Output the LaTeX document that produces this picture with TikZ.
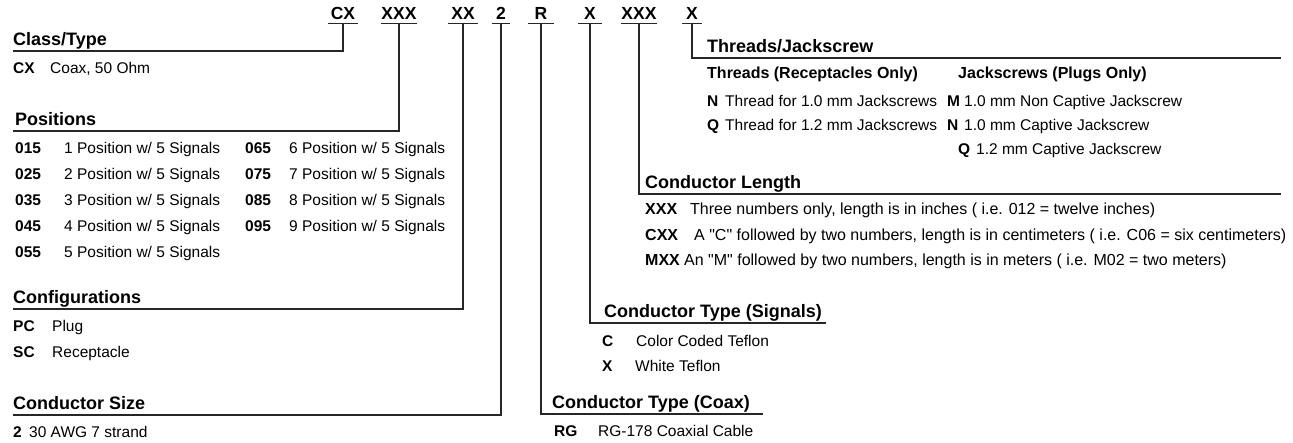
\documentclass[tikz,border=0pt]{standalone}
\usepackage{fontspec}
\setmainfont{Liberation Sans}[Ligatures=TeXOff]
\begin{document}
\begin{tikzpicture}[x=1pt,y=-1pt,
  hd/.style={anchor=base west, inner sep=0pt, font=\fontsize{18}{20}\selectfont\bfseries},
  sub/.style={anchor=base west, inner sep=0pt, font=\fontsize{16}{18}\selectfont\bfseries},
  key/.style={anchor=base west, inner sep=0pt, font=\fontsize{15.5}{18}\selectfont\bfseries},
  txt/.style={anchor=base west, inner sep=0pt, font=\fontsize{15.5}{18}\selectfont},
  keyr/.style={anchor=base west, inner sep=0pt, font=\fontsize{16}{18}\selectfont\bfseries},
  txtr/.style={anchor=base west, inner sep=0pt, font=\fontsize{16}{18}\selectfont},
  code/.style={anchor=base, inner sep=0pt, font=\fontsize{17.5}{20}\selectfont\bfseries},
  rule/.style={line width=1.1pt, black!85},
]
\useasboundingbox (0,0) rectangle (1293,442);

% ---- part-number code ----
\node[code, minimum width=30] (c1) at (343,19) {CX};
\node[code, minimum width=36] (c2) at (399,19) {XXX};
\node[code, minimum width=30] (c3) at (463,19) {XX};
\node[code, minimum width=17] (c4) at (501,19) {2};
\node[code, minimum width=25] (c5) at (541,19) {R};
\node[code, minimum width=24] (c6) at (590,19) {X};
\node[code, minimum width=36] (c7) at (639,19) {XXX};
\node[code, minimum width=20] (c8) at (692,19) {X};
\foreach \n in {c1,c2,c3,c4,c5,c6,c7,c8}
  \draw[rule] ([yshift=-4.5pt]\n.base west) -- ([yshift=-4.5pt]\n.base east);

% ---- line end points ----
\coordinate (e1) at (13,51);
\coordinate (e2) at (13,131);
\coordinate (e3) at (13,309);
\coordinate (e4) at (13,415);
\coordinate (e5) at (763,414);
\coordinate (e6) at (826,323);
\coordinate (e7) at (1281,194);
\coordinate (e8) at (1281,58);

% ---- connectors ----
\draw[rule] ([yshift=-4.5pt]c1.base) |- (e1);
\draw[rule] ([yshift=-4.5pt]c2.base) |- (e2);
\draw[rule] ([yshift=-4.5pt]c3.base) |- (e3);
\draw[rule] ([yshift=-4.5pt]c4.base) |- (e4);
\draw[rule] ([yshift=-4.5pt]c5.base) |- (e5);
\draw[rule] ([yshift=-4.5pt]c6.base) |- (e6);
\draw[rule] ([yshift=-4.5pt]c7.base) |- (e7);
\draw[rule] ([yshift=-4.5pt]c8.base) |- (e8);

% ---- Class/Type ----
\node[hd] (h1) at (13,45) {Class/Type};
\node[key] (k1a) at (13,73) {CX};
\node[txt] (t1a) at (50,73) {Coax, 50 Ohm};

% ---- Positions ----
\node[hd] (h2) at (15,125) {Positions};
\node[key] (k2a) at (15,153) {015}; \node[txt] (t2a) at (64,153) {1 Position w/ 5 Signals};
\node[key] (k2b) at (15,179) {025}; \node[txt] (t2b) at (64,179) {2 Position w/ 5 Signals};
\node[key] (k2c) at (15,205) {035}; \node[txt] (t2c) at (64,205) {3 Position w/ 5 Signals};
\node[key] (k2d) at (15,231) {045}; \node[txt] (t2d) at (64,231) {4 Position w/ 5 Signals};
\node[key] (k2e) at (15,257) {055}; \node[txt] (t2e) at (64,257) {5 Position w/ 5 Signals};
\node[key] (k2f) at (245,153) {065}; \node[txt] (t2f) at (289,153) {6 Position w/ 5 Signals};
\node[key] (k2g) at (245,179) {075}; \node[txt] (t2g) at (289,179) {7 Position w/ 5 Signals};
\node[key] (k2h) at (245,205) {085}; \node[txt] (t2h) at (289,205) {8 Position w/ 5 Signals};
\node[key] (k2i) at (245,231) {095}; \node[txt] (t2i) at (289,231) {9 Position w/ 5 Signals};

% ---- Configurations ----
\node[hd] (h3) at (13,303) {Configurations};
\node[key] (k3a) at (13,331) {PC}; \node[txt] (t3a) at (52,331) {Plug};
\node[key] (k3b) at (13,357) {SC}; \node[txt] (t3b) at (52,357) {Receptacle};

% ---- Conductor Size ----
\node[hd] (h4) at (13,409) {Conductor Size};
\node[key] (k4a) at (13,437) {2}; \node[txt] (t4a) at (29,437) {30 AWG 7 strand};

% ---- Conductor Type (Coax) ----
\node[hd] (h5) at (552,408) {Conductor Type (Coax)};
\node[key] (k5a) at (554,436) {RG}; \node[txt] (t5a) at (598,436) {RG-178 Coaxial Cable};

% ---- Conductor Type (Signals) ----
\node[hd] (h6) at (604,317) {Conductor Type (Signals)};
\node[key] (k6a) at (602,346) {C}; \node[txt] (t6a) at (636,346) {Color Coded Teflon};
\node[key] (k6b) at (602,371) {X}; \node[txt] (t6b) at (635,371) {White Teflon};

% ---- Conductor Length ----
\node[hd] (h7) at (645,188) {Conductor Length};
\node[keyr] (k7a) at (645,214) {XXX}; \node[txtr] (t7a) at (690,214) {Three numbers only, length is in inches ( i.e. 012 = twelve inches)};
\node[keyr] (k7b) at (645,240) {CXX}; \node[txtr] (t7b) at (694,240) {A "C" followed by two numbers, length is in centimeters ( i.e. C06 = six centimeters)};
\node[keyr] (k7c) at (645,265) {MXX}; \node[txtr] (t7c) at (684,265) {An "M" followed by two numbers, length is in meters ( i.e. M02 = two meters)};

% ---- Threads/Jackscrew ----
\node[hd] (h8) at (707,52) {Threads/Jackscrew};
\node[sub] (s8a) at (707,78) {Threads (Receptacles Only)};
\node[sub] (s8b) at (958,78) {Jackscrews (Plugs Only)};
\node[key] (k8a) at (707,106) {N}; \node[txt] (t8a) at (725,106) {Thread for 1.0 mm Jackscrews};
\node[key] (k8b) at (707,130) {Q}; \node[txt] (t8b) at (725,130) {Thread for 1.2 mm Jackscrews};
\node[key] (k8c) at (947,106) {M}; \node[txt] (t8c) at (964,106) {1.0 mm Non Captive Jackscrew};
\node[key] (k8d) at (947,130) {N}; \node[txt] (t8d) at (964,130) {1.0 mm Captive Jackscrew};
\node[key] (k8e) at (958,154) {Q}; \node[txt] (t8e) at (976,154) {1.2 mm Captive Jackscrew};
\end{tikzpicture}
\end{document}
